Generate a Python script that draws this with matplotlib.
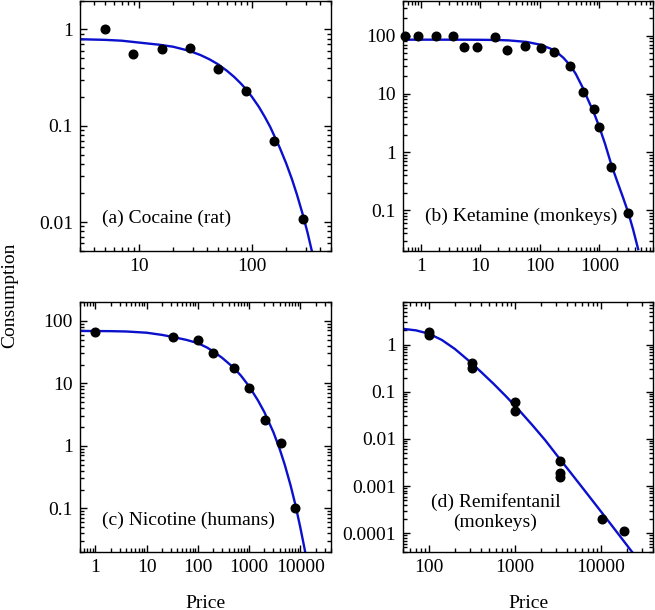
import matplotlib
matplotlib.use('Agg')
import matplotlib.pyplot as plt
from matplotlib.ticker import FixedLocator, FixedFormatter, NullFormatter, LogLocator

plt.rcParams['font.family'] = ['Liberation Serif', 'DejaVu Serif']
plt.rcParams['font.size'] = 14

# ---------------- data ----------------
coc_price = [5.0, 8.9, 15.8, 28.1, 50, 89, 158, 281]
coc_cons = [1.0, 0.56, 0.62, 0.64, 0.39, 0.228, 0.070, 0.0107]
coc_fit_price = [3, 5, 7, 10, 15, 20, 28, 35, 42, 50, 60, 70, 80, 90, 100, 115, 130, 145, 158, 175, 200,
                 225, 250, 281, 310, 340]
coc_fit_cons = [0.792, 0.780, 0.765, 0.731, 0.695, 0.662, 0.599, 0.542, 0.490, 0.435, 0.372, 0.319, 0.273,
                0.234, 0.199, 0.157, 0.123, 0.0969, 0.0778, 0.0600, 0.0410, 0.0281, 0.0192, 0.0120,
                0.00775, 0.00488]

ket_price = [0.54, 0.9, 1.8, 3.4, 5.4, 8.8, 17.6, 28, 56, 103, 170, 320, 536, 820, 995, 1600, 3060]
ket_cons = [100, 97, 97, 100, 63.5, 63.5, 94, 56, 65, 60, 52, 29.6, 10.8, 5.4, 2.64, 0.56, 0.089]
ket_fit_price = [0.5, 2, 5, 10, 20, 30, 60, 100, 150, 200, 250, 320, 400, 536, 650, 820, 1000, 1250, 1600,
                 2000, 2500, 3060, 3700, 4500]
ket_fit_cons = [85, 85, 84.9, 84.6, 83.8, 82.6, 77.8, 70, 59.9, 50.2, 41.4, 31.1, 22.2, 12.3, 7.8, 4.6, 2.7,
                1.38, 0.60, 0.314, 0.167, 0.092, 0.047, 0.0215]

nic_price = [1.0, 33, 102, 201, 509, 1014, 2050, 4220, 7900]
nic_cons = [65.5, 55.7, 49.3, 30.9, 17.8, 8.5, 2.59, 1.12, 0.1]
nic_fit_price = [0.5, 1, 2, 4, 10, 20, 33, 60, 100, 150, 200, 300, 500, 700, 1000, 1500, 2000, 3000, 4000,
                 5000, 6500, 8000, 10000, 12000, 13500]
nic_fit_cons = [68.8, 68.6, 68.3, 67.5, 64.5, 59.5, 55, 49.5, 44, 37.5, 32.5, 25.5, 17.8, 13.2, 9.0, 5.31,
                3.45, 1.65, 0.877, 0.497, 0.232, 0.117, 0.0506, 0.024, 0.0145]

rem_price = [100, 100, 320, 320, 1000, 1000, 3300, 3300, 3300, 10300, 18400]
rem_cons = [1.82, 1.6, 0.40, 0.32, 0.06, 0.04, 0.0034, 0.0019, 0.00155, 0.0002, 0.000114]
rem_fit_price = [50, 71, 100, 141, 200, 282, 398, 562, 794, 1122, 1585, 2239, 3162, 4467, 6310, 8913,
                 12589, 17783, 25119]
rem_fit_cons = [2.16, 2.0, 1.70, 1.256, 0.809, 0.476, 0.269, 0.148, 0.0784, 0.040, 0.0197, 0.0094,
                0.00417, 0.00188, 0.00084, 0.000374, 0.000166, 0.000073, 0.000032]

panel_labels = ["(a) Cocaine (rat)", "(b) Ketamine (monkeys)", "(c) Nicotine (humans)",
                "(d) Remifentanil\n(monkeys)"]

coc_xticks = [10, 100]
coc_xticklabels = ["10", "100"]
coc_yticks = [0.01, 0.1, 1]
coc_yticklabels = ["0.01", "0.1", "1"]

ket_xticks = [1, 10, 100, 1000]
ket_xticklabels = ["1", "10", "100", "1000"]
ket_yticks = [0.1, 1, 10, 100]
ket_yticklabels = ["0.1", "1", "10", "100"]

nic_xticks = [1, 10, 100, 1000, 10000]
nic_xticklabels = ["1", "10", "100", "1000", "10000"]
nic_yticks = [0.1, 1, 10, 100]
nic_yticklabels = ["0.1", "1", "10", "100"]

rem_xticks = [100, 1000, 10000]
rem_xticklabels = ["100", "1000", "10000"]
rem_yticks = [0.0001, 0.001, 0.01, 0.1, 1]
rem_yticklabels = ["0.0001", "0.001", "0.01", "0.1", "1"]

x_label = "Price"
y_label = "Consumption"

# ---------------- figure ----------------
W, H = 655, 610
fig = plt.figure(figsize=(W / 100, H / 100), dpi=100)


def rect(x0, y0, x1, y1):
    return [x0 / W, 1 - y1 / H, (x1 - x0) / W, (y1 - y0) / H]


LINE_COLOR = '#0a10cc'

panels = [
    dict(r=rect(80, 0.5, 331, 251), px=coc_price, py=coc_cons, fx=coc_fit_price, fy=coc_fit_cons,
         xlim=(3, 500), ylim=(0.005, 2), xt=coc_xticks, xtl=coc_xticklabels, yt=coc_yticks,
         ytl=coc_yticklabels, lab=panel_labels[0], lpos=(0.086, 0.13), ha='left'),
    dict(r=rect(403, 0.5, 653, 251), px=ket_price, py=ket_cons, fx=ket_fit_price, fy=ket_fit_cons,
         xlim=(0.5, 8000), ylim=(0.02, 400), xt=ket_xticks, xtl=ket_xticklabels, yt=ket_yticks,
         ytl=ket_yticklabels, lab=panel_labels[1], lpos=(0.088, 0.137), ha='left'),
    dict(r=rect(80, 302, 331, 552), px=nic_price, py=nic_cons, fx=nic_fit_price, fy=nic_fit_cons,
         xlim=(0.5, 40000), ylim=(0.02, 200), xt=nic_xticks, xtl=nic_xticklabels, yt=nic_yticks,
         ytl=nic_yticklabels, lab=panel_labels[2], lpos=(0.086, 0.128), ha='left'),
    dict(r=rect(403, 302, 653, 552), px=rem_price, py=rem_cons, fx=rem_fit_price, fy=rem_fit_cons,
         xlim=(50, 40000), ylim=(4e-5, 8), xt=rem_xticks, xtl=rem_xticklabels, yt=rem_yticks,
         ytl=rem_yticklabels, lab=panel_labels[3], lpos=(0.37, 0.16), ha='center'),
]

for p in panels:
    ax = fig.add_axes(p['r'])
    ax.set_xscale('log')
    ax.set_yscale('log')
    ax.plot(p['fx'], p['fy'], color=LINE_COLOR, lw=1.7, zorder=2, solid_joinstyle='round')
    ax.plot(p['px'], p['py'], 'o', color='black', ms=6.2, zorder=3, clip_on=False)
    ax.set_xlim(*p['xlim'])
    ax.set_ylim(*p['ylim'])
    ax.xaxis.set_major_locator(FixedLocator(p['xt']))
    ax.xaxis.set_major_formatter(FixedFormatter(p['xtl']))
    ax.yaxis.set_major_locator(FixedLocator(p['yt']))
    ax.yaxis.set_major_formatter(FixedFormatter(p['ytl']))
    ax.xaxis.set_minor_locator(LogLocator(base=10, subs=range(2, 10), numticks=50))
    ax.yaxis.set_minor_locator(LogLocator(base=10, subs=range(2, 10), numticks=50))
    ax.xaxis.set_minor_formatter(NullFormatter())
    ax.yaxis.set_minor_formatter(NullFormatter())
    ax.tick_params(which='both', direction='in', top=True, right=True, width=1.0, labelsize=14)
    ax.tick_params(which='major', length=5, pad=5)
    ax.tick_params(which='minor', length=3)
    for s in ax.spines.values():
        s.set_linewidth(1.0)
    ax.text(p['lpos'][0], p['lpos'][1], p['lab'], transform=ax.transAxes, ha=p['ha'], va='center',
            multialignment='center', fontsize=14, linespacing=1.15)

fig.text(205.5 / W, 1 - 603 / H, x_label, ha='center', va='center', fontsize=14)
fig.text(528 / W, 1 - 603 / H, x_label, ha='center', va='center', fontsize=14)
fig.text(10 / W, 1 - 295 / H, y_label, ha='center', va='center', rotation=90, fontsize=14)

fig.savefig('out.png', dpi=100)
